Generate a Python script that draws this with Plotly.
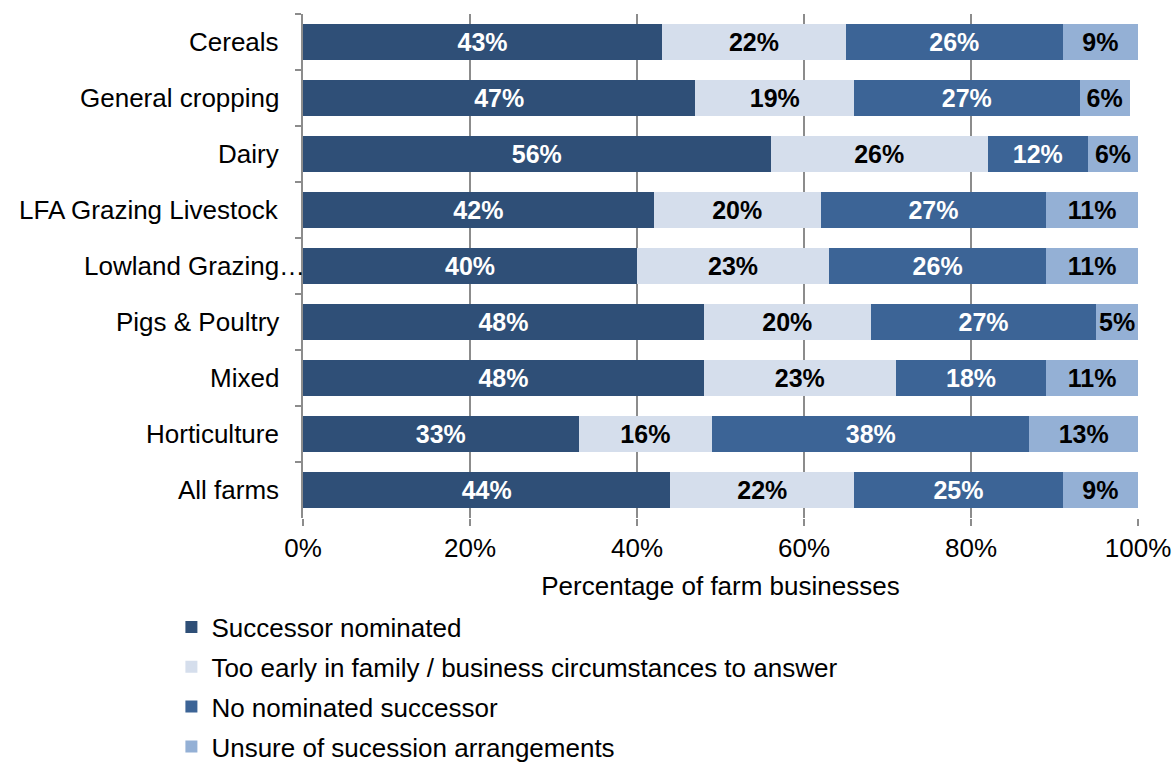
import plotly.graph_objects as go

# Farm types, top to bottom
categories = ["Cereals", "General cropping", "Dairy", "LFA Grazing Livestock",
              "Lowland Grazing…", "Pigs & Poultry", "Mixed", "Horticulture", "All farms"]

successor_nominated = [43, 47, 56, 42, 40, 48, 48, 33, 44]
too_early = [22, 19, 26, 20, 23, 20, 23, 16, 22]
no_successor = [26, 27, 12, 27, 26, 27, 18, 38, 25]
unsure = [9, 6, 6, 11, 11, 5, 11, 13, 9]

series_names = ["Successor nominated",
                "Too early in family / business circumstances to answer",
                "No nominated successor",
                "Unsure of sucession arrangements"]
series_values = [successor_nominated, too_early, no_successor, unsure]
series_colors = ["#2F4F77", "#D5DEEC", "#3C6496", "#94B0D5"]
label_colors = ["white", "black", "white", "black"]

x_ticks = [0, 20, 40, 60, 80, 100]

FONT = "Liberation Sans, Arial, sans-serif"

fig = go.Figure()
for name, vals, col, lcol in zip(series_names, series_values, series_colors, label_colors):
    fig.add_trace(go.Bar(
        y=categories, x=vals, orientation="h", name=name,
        marker=dict(color=col, line=dict(width=0)),
        text=[f"{v}%" for v in vals], textposition="inside",
        insidetextanchor="middle", constraintext="none",
        textfont=dict(family=FONT, size=25, color=lcol, weight="bold"),
        legendgroup=name, hoverinfo="skip",
    ))

# category labels on the left of the axis
for c in categories:
    fig.add_annotation(
        x=0, xref="paper", y=c, yref="y", text=c, showarrow=False,
        xanchor="right", xshift=(4 if c.endswith("…") else -22),
        font=dict(family=FONT, size=26, color="black"),
    )

fig.update_layout(
    width=1174, height=765,
    margin=dict(l=303, r=36, t=14, b=247, autoexpand=False),
    paper_bgcolor="white", plot_bgcolor="white",
    barmode="stack", bargap=0.36,
    font=dict(family=FONT, size=26, color="black"),
    showlegend=True,
    legend=dict(
        orientation="v", xref="container", yref="container",
        x=0.146, xanchor="left", y=0.211, yanchor="top",
        traceorder="grouped", tracegroupgap=3,
        font=dict(family=FONT, size=26, color="black"),
        bgcolor="rgba(0,0,0,0)",
    ),
    xaxis=dict(
        range=[0, 100], tickvals=x_ticks, ticktext=[f"{t}%" for t in x_ticks],
        showgrid=True, gridcolor="#8C8C8C", gridwidth=1.5,
        zeroline=False, showline=False, automargin=False,
        ticks="outside", ticklen=7, tickcolor="#8C8C8C", tickwidth=1.5,
        tickfont=dict(family=FONT, size=26, color="black"),
        title=dict(text="Percentage of farm businesses", standoff=14,
                   font=dict(family=FONT, size=26, color="black")),
    ),
    yaxis=dict(
        categoryorder="array", categoryarray=categories, autorange="reversed",
        showticklabels=False, showgrid=False, zeroline=False, automargin=False,
        showline=True, linecolor="#8C8C8C", linewidth=1.5,
        ticks="outside", tickson="boundaries", ticklen=6,
        tickcolor="#8C8C8C", tickwidth=1.5,
    ),
)

fig.write_html("out.html")
